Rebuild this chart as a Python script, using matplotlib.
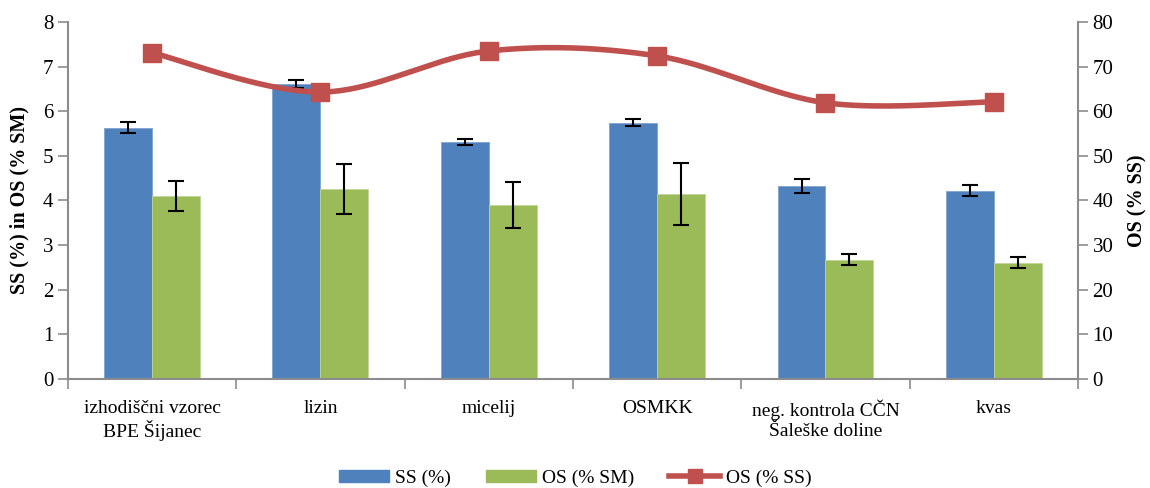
import numpy as np
import matplotlib
matplotlib.use('Agg')
import matplotlib.pyplot as plt
from matplotlib.lines import Line2D
from matplotlib.patches import Patch

plt.rcParams.update({
    'font.family': ['Liberation Serif', 'DejaVu Serif'],
    'font.size': 14,
})

categories = ['izhodiščni vzorec\nBPE Šijanec', 'lizin', 'micelij', 'OSMKK',
              'neg. kontrola CČN\nŠaleške doline', 'kvas']
ss = [5.63, 6.62, 5.31, 5.74, 4.33, 4.22]
ss_err = [0.12, 0.09, 0.07, 0.08, 0.16, 0.12]
os_sm = [4.10, 4.26, 3.90, 4.15, 2.67, 2.61]
os_sm_err = [0.33, 0.56, 0.51, 0.70, 0.12, 0.12]
os_ss = [73.1, 64.3, 73.5, 72.4, 61.9, 62.1]

BLUE = '#4F81BD'
GREEN = '#9BBB59'
RED = '#C0504D'
GRAY = '#8C8C8C'


def smooth(xs, ys, n=40):
    # bezier smoothing like the spreadsheet "smoothed line"
    p = np.column_stack([xs, ys]).astype(float)
    p = np.vstack([p[0], p, p[-1]])
    out = []
    for i in range(1, len(p) - 2):
        p0, p1, p2, p3 = p[i - 1], p[i], p[i + 1], p[i + 2]
        c1 = p1 + (p2 - p0) / 6
        c2 = p2 - (p3 - p1) / 6
        t = np.linspace(0, 1, n)[:, None]
        seg = ((1 - t) ** 3 * p1 + 3 * (1 - t) ** 2 * t * c1
               + 3 * (1 - t) * t ** 2 * c2 + t ** 3 * p2)
        out.append(seg)
    out = np.vstack(out)
    return out[:, 0], out[:, 1]


fig = plt.figure(figsize=(11.5, 4.88), dpi=100)
ax = fig.add_axes([0.0591, 0.2234, 0.8783, 0.7315])
ax2 = ax.twinx()

x = np.arange(len(categories))
w = 0.285
ax.bar(x - w / 2, ss, w, color=BLUE, edgecolor='#7FA3D0', linewidth=0.6, zorder=2)
ax.bar(x + w / 2, os_sm, w, color=GREEN, edgecolor='#C2D69A', linewidth=0.6, zorder=2)
ax.errorbar(x - w / 2, ss, yerr=ss_err, fmt='none', ecolor='black',
            elinewidth=1.5, capsize=6, capthick=1.5, zorder=3)
ax.errorbar(x + w / 2, os_sm, yerr=os_sm_err, fmt='none', ecolor='black',
            elinewidth=1.5, capsize=6, capthick=1.5, zorder=3)

sx, sy = smooth(x, os_ss)
ax2.plot(sx, sy, color=RED, linewidth=4, solid_capstyle='round', zorder=4)
ax2.plot(x, os_ss, linestyle='none', marker='s', markersize=13,
         color=RED, markeredgecolor=RED, zorder=5)

ax.set_xlim(-0.5, len(categories) - 0.5)
ax.set_ylim(0, 8)
ax2.set_ylim(0, 80)
ax.set_yticks(range(0, 9))
ax2.set_yticks(range(0, 81, 10))

ax.set_xticks(np.arange(-0.5, len(categories), 1.0))
ax.set_xticklabels([])
ax.set_xticks(x, minor=True)
ax.set_xticklabels(categories, minor=True, fontsize=14)
ax.tick_params(axis='x', which='minor', length=0, pad=15)
ax.tick_params(axis='x', which='major', length=7, color=GRAY, width=1.2)
ax.tick_params(axis='y', length=7, color=GRAY, width=1.2, labelsize=15)
ax2.tick_params(axis='y', length=7, color=GRAY, width=1.2, labelsize=15)

for a in (ax, ax2):
    for s in a.spines.values():
        s.set_visible(False)
ax.spines['left'].set_visible(True)
ax.spines['bottom'].set_visible(True)
ax2.spines['right'].set_visible(True)
for s in (ax.spines['left'], ax.spines['bottom'], ax2.spines['right']):
    s.set_color(GRAY)
    s.set_linewidth(1.5)

ax.set_ylabel('SS (%) in OS (% SM)', fontweight='bold', fontsize=14.5, labelpad=10)
ax2.set_ylabel('OS (% SS)', fontweight='bold', fontsize=14.5, labelpad=10)

handles = [Patch(facecolor=BLUE, edgecolor=BLUE),
           Patch(facecolor=GREEN, edgecolor=GREEN),
           Line2D([0], [0], color=RED, linewidth=4, marker='s', markersize=10)]
fig.legend(handles, ['SS (%)', 'OS (% SM)', 'OS (% SS)'], loc='center',
           bbox_to_anchor=(0.5, 0.02), ncol=3, frameon=False, fontsize=14,
           handlelength=2.6, handleheight=0.6, columnspacing=1.8, handletextpad=0.3)

fig.savefig('out.png', dpi=100)
